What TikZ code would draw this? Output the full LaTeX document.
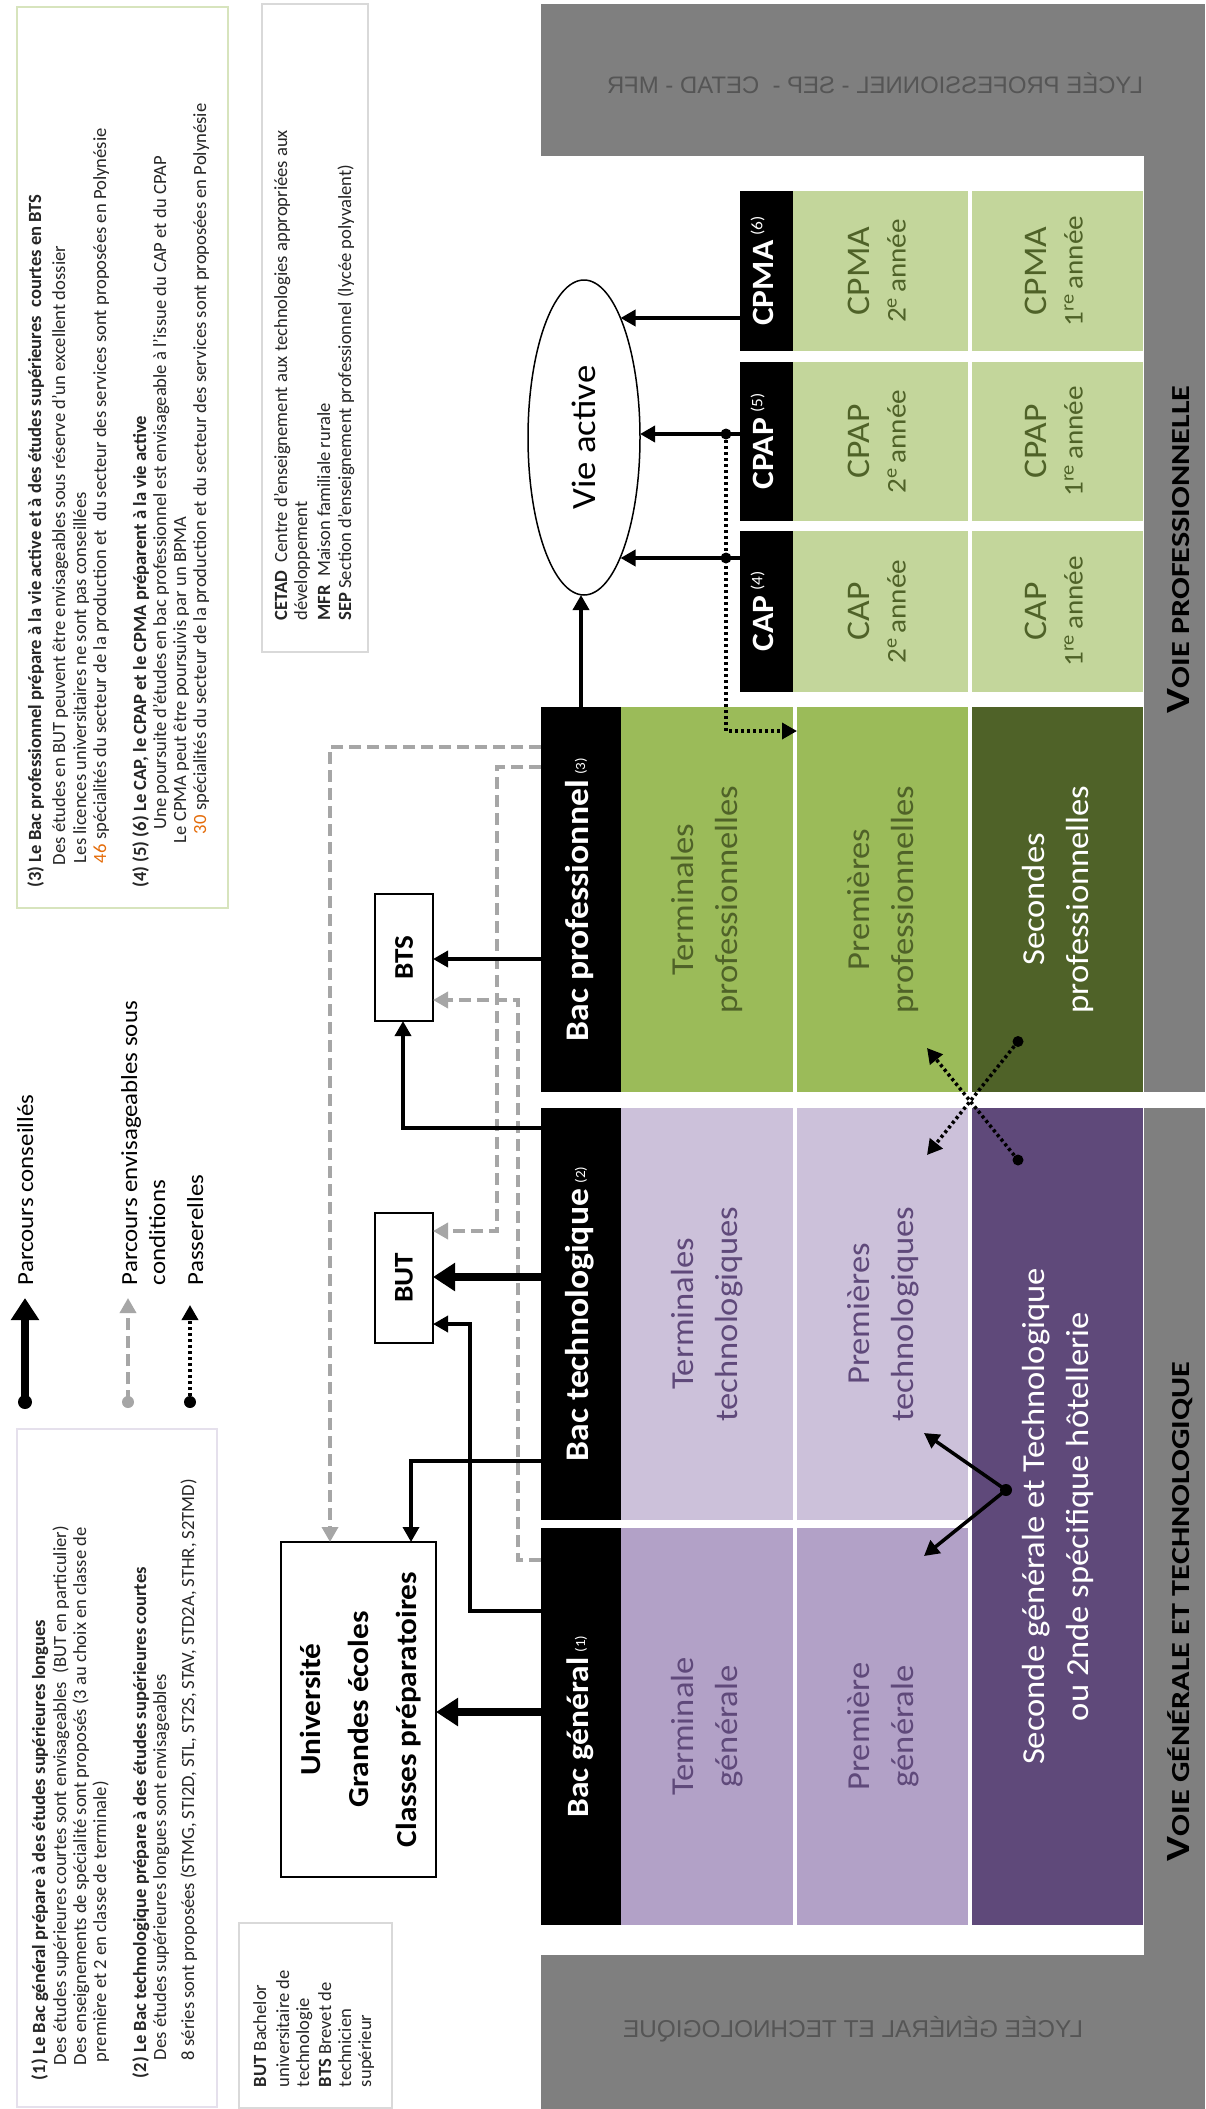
\documentclass[tikz,border=0pt]{standalone}
\usepackage{graphicx}
\usepackage{fontspec}
\setmainfont{Carlito}
\newfontfamily\dia{Carlito}[FakeStretch=1.08]
\newfontfamily\voie{Carlito}[FakeStretch=1.24]
\newfontfamily\bandfont{Liberation Sans}
\usetikzlibrary{arrows.meta,shapes.geometric}
\definecolor{bandgray}{HTML}{7F7F7F}
\definecolor{bandtext}{HTML}{555555}
\definecolor{olivemid}{HTML}{9BBB59}
\definecolor{olivedark}{HTML}{4F6228}
\definecolor{olivelight}{HTML}{C3D69B}
\definecolor{purplemid}{HTML}{B2A1C7}
\definecolor{purplelight}{HTML}{CCC1DA}
\definecolor{purpledark}{HTML}{5F497A}
\definecolor{dashgray}{HTML}{A6A6A6}
\definecolor{framegreen}{HTML}{D7E4BD}
\definecolor{framepurple}{HTML}{E5E0EC}
\definecolor{framegray}{HTML}{D9D9D9}
\definecolor{orangenum}{HTML}{E46C0A}
\definecolor{notetext}{HTML}{262626}
\newcommand\fsz[2]{\fontsize{#1pt}{#2pt}\selectfont}
\newcommand\rt[1]{\rotatebox{90}{\begin{tabular}{@{}c@{}}#1\end{tabular}}}
\newcommand\hsup[1]{\,\raisebox{3pt}{\fsz{14}{14}\mdseries(#1)}}
\newcommand\csup[1]{\,\raisebox{11pt}{\fsz{16}{16}\mdseries(#1)}}
\newcommand\yr[2]{{\fsz{27}{36}#1\textsuperscript{#2}\,année}}
\begin{document}
\begin{tikzpicture}[x=1pt,y=-1pt,
  every node/.style={inner sep=0pt, outer sep=0pt},
  sz/.style 2 args={minimum width=#1pt, minimum height=#2pt},
  cellbox/.style={rectangle, fill=#1},
  framebox/.style={rectangle, draw=black, line width=2pt, fill=white},
  notebox/.style={rectangle, draw=#1, line width=2pt},
  celltxt/.style={font=\dia\fsz{32}{44}, text=#1},
  hdrtxt/.style={font=\dia\bfseries\fsz{33}{36}, text=white},
  captxt/.style={font=\dia\fsz{33}{36}, text=olivedark},
  note/.style={rotate=90, anchor=base west, font=\fsz{18.6}{21}, text=notetext},
  legtxt/.style={rotate=90, anchor=base west, font=\dia\fsz{23}{28}},
  thickarr/.style={line width=8pt, -{Triangle[length=22pt,width=27pt]}},
  medarr/.style={line width=3.5pt, -{Triangle[length=15pt,width=16pt]}},
  condarr/.style={line width=3.5pt, draw=dashgray, dash pattern=on 12pt off 6pt, -{Triangle[length=15pt,width=16pt]}},
  passarr/.style={line width=3.5pt, dash pattern=on 3pt off 3pt, -{Triangle[length=15pt,width=16pt]}},
]
\useasboundingbox (0,0) rectangle (1205,2109);
\fill[white] (0,0) rectangle (1205,2109);

% ---------- gray bands ----------
\fill[bandgray] (541,4) rectangle (1205,1092);
\fill[white] (541,156) rectangle (1144,1092);
\fill[bandgray] (541,1108) rectangle (1205,2109);
\fill[white] (541,1108) rectangle (1144,1955);
\node[text=bandtext] (bandpro) at (875,83) {\reflectbox{\resizebox{536pt}{!}{\bandfont\fsz{24}{24}LYCÉE PROFESSIONNEL - SEP -\ \ CETAD - MFR}}};
\node[text=bandtext] (bandgt) at (853,2029) {\reflectbox{\resizebox{460pt}{!}{\bandfont\fsz{24}{24}LYCÉE GÉNÉRAL ET TECHNOLOGIQUE}}};
\node[rotate=90, anchor=base west, font=\voie\bfseries\fsz{26}{26}] (voiepro) at (1189,713) {{\fsz{34}{34}V}OIE PROFESSIONNELLE};
\node[rotate=90, anchor=base west, font=\voie\bfseries\fsz{26}{26}] (voiegt) at (1189,1861) {{\fsz{34}{34}V}OIE GÉNÉRALE ET TECHNOLOGIQUE};

% ---------- CAP / CPAP / CPMA ----------
\node[cellbox=black, sz={53}{160}, hdrtxt, font=\dia\bfseries\fsz{31}{34}] (cpmaH) at (766.5,271) {\rt{CPMA\csup{6}}};
\node[cellbox=olivelight, sz={175}{160}, captxt] (cpma2) at (880.5,271) {\rt{CPMA\\\yr{2}{e}}};
\node[cellbox=olivelight, sz={171}{160}, captxt] (cpma1) at (1057.5,271) {\rt{CPMA\\\yr{1}{re}}};
\node[cellbox=black, sz={53}{159}, hdrtxt, font=\dia\bfseries\fsz{31}{34}] (cpapH) at (766.5,441.5) {\rt{CPAP\csup{5}}};
\node[cellbox=olivelight, sz={175}{159}, captxt] (cpap2) at (880.5,441.5) {\rt{CPAP\\\yr{2}{e}}};
\node[cellbox=olivelight, sz={171}{159}, captxt] (cpap1) at (1057.5,441.5) {\rt{CPAP\\\yr{1}{re}}};
\node[cellbox=black, sz={53}{161}, hdrtxt, font=\dia\bfseries\fsz{31}{34}] (capH) at (766.5,611.5) {\rt{CAP\csup{4}}};
\node[cellbox=olivelight, sz={175}{161}, captxt] (cap2) at (880.5,611.5) {\rt{CAP\\\yr{2}{e}}};
\node[cellbox=olivelight, sz={171}{161}, captxt] (cap1) at (1057.5,611.5) {\rt{CAP\\\yr{1}{re}}};

% ---------- professional row ----------
\node[cellbox=black, sz={80}{385}, hdrtxt] (bacpro) at (581,899.5) {\rt{Bac professionnel\hsup{3}}};
\node[cellbox=olivemid, sz={172}{385}, celltxt=olivedark] (termpro) at (707,899.5) {\rt{Terminales\\professionnelles}};
\node[cellbox=olivemid, sz={171}{385}, celltxt=olivedark] (prempro) at (882.5,899.5) {\rt{Premières\\professionnelles}};
\node[cellbox=olivedark, sz={171}{385}, celltxt=white] (secpro) at (1057.5,899.5) {\rt{Secondes\\professionnelles}};

% ---------- technological row ----------
\node[cellbox=black, sz={80}{412}, hdrtxt] (bactech) at (581,1314) {\rt{Bac technologique\hsup{2}}};
\node[cellbox=purplelight, sz={172}{412}, celltxt=purpledark] (termtech) at (707,1314) {\rt{Terminales\\technologiques}};
\node[cellbox=purplelight, sz={171}{412}, celltxt=purpledark] (premtech) at (882.5,1314) {\rt{Premières\\technologiques}};

% ---------- general row ----------
\node[cellbox=black, sz={80}{397}, hdrtxt, font=\dia\bfseries\fsz{31}{36}] (bacgen) at (581,1726.5) {\rt{Bac général\hsup{1}}};
\node[cellbox=purplemid, sz={172}{397}, celltxt=purpledark] (termgen) at (707,1726.5) {\rt{Terminale\\générale}};
\node[cellbox=purplemid, sz={171}{397}, celltxt=purpledark] (premgen) at (882.5,1726.5) {\rt{Première\\générale}};
\node[cellbox=purpledark, sz={171}{817}, celltxt=white] (secgt) at (1057.5,1516.5) {\rt{Seconde générale et Technologique\\ou 2nde spécifique hôtellerie}};

% ---------- outcomes ----------
\node[ellipse, draw=black, line width=1.5pt, fill=white, minimum width=112pt, minimum height=315pt, font=\dia\fsz{34}{36}] (vie) at (584,437.5) {\rotatebox{90}{Vie active}};
\node[framebox, sz={58}{127}, font=\dia\bfseries\fsz{27}{30}] (bts) at (404,957.5) {\rotatebox{90}{BTS}};
\node[framebox, sz={58}{130}, font=\dia\bfseries\fsz{27}{30}] (but) at (404,1278) {\rotatebox{90}{BUT}};
\node[framebox, sz={155}{335}, font=\dia\bfseries\fsz{29}{48}] (univ) at (358.5,1709.5) {\rt{Université\\Grandes écoles\\Classes préparatoires}};

% ---------- connectors to Vie active ----------
\draw[medarr] (cpmaH.west |- 0,318) -- (vie.73 |- 0,318);
\draw[medarr] (cpapH.west |- 0,434) -- (vie.east |- 0,434);
\draw[medarr] (capH.west |- 0,558) -- (vie.-73 |- 0,558);
\draw[medarr] (bacpro.north) -- (bacpro.north |- vie.south);
\coordinate (pdotA) at (726,434);
\coordinate (pdotB) at (726,558);
\draw[passarr] (pdotA) |- (prempro.west |- 0,731);
\fill (pdotA) circle[radius=5.5pt];
\fill (pdotB) circle[radius=5.5pt];

% ---------- connectors to higher education ----------
\draw[condarr] (bacpro.west |- 0,747) -| (univ.north -| 330,0);
\draw[condarr] (bacpro.west |- 0,767) -| (497,1231) -- (but.east |- 0,1231);
\draw[condarr] (bacgen.west |- 0,1560) -| (518,1000) -- (bts.east |- 0,1000);
\draw[medarr] (bacpro.west |- 0,959) -- (bts.east |- 0,959);
\draw[medarr] (bactech.west |- 0,1128) -| (bts.south -| 403,0);
\draw[thickarr] (bactech.west |- 0,1277) -- (but.east |- 0,1277);
\draw[medarr] (bactech.west |- 0,1461) -| (univ.north -| 411,0);
\draw[medarr] (bacgen.west |- 0,1611) -| (470,1324) -- (but.east |- 0,1324);
\draw[thickarr] (bacgen.west |- 0,1712) -- (univ.east |- 0,1712);

% ---------- passerelles between seconde classes ----------
\coordinate (psA) at (1018,1041.5);
\coordinate (peA) at (927,1155);
\coordinate (psB) at (1018,1160);
\coordinate (peB) at (927,1048);
\draw[passarr] (psA) -- (peA);
\draw[passarr] (psB) -- (peB);
\fill (psA) circle[radius=5.5pt];
\fill (psB) circle[radius=5.5pt];
\coordinate (hub) at (1006,1490);
\coordinate (hubT) at (924,1433);
\coordinate (hubG) at (924,1556);
\draw[medarr] (hub) -- (hubT);
\draw[medarr] (hub) -- (hubG);
\fill (hub) circle[radius=6pt];

% ---------- legend ----------
\coordinate (lgAs) at (25,1402); \coordinate (lgAe) at (25,1298);
\coordinate (lgBs) at (128,1402); \coordinate (lgBe) at (128,1298);
\coordinate (lgCs) at (190,1402); \coordinate (lgCe) at (190,1305);
\draw[thickarr] (lgAs) -- (lgAe);
\fill (lgAs) circle[radius=7pt];
\draw[condarr] (lgBs) -- (lgBe);
\fill[dashgray] (lgBs) circle[radius=6pt];
\draw[passarr] (lgCs) -- (lgCe);
\fill (lgCs) circle[radius=6pt];
\node[legtxt] (lgAt) at (33,1285) {Parcours conseillés};
\node[legtxt] (lgBt) at (137,1285) {Parcours envisageables sous};
\node[legtxt] (lgBt2) at (165,1285) {conditions};
\node[legtxt] (lgCt) at (203,1285) {Passerelles};

% ---------- notes (3)-(6) ----------
\node[notebox=framegreen, sz={211}{901}] (nbox3) at (122.5,457.5) {};
\node[note] (n3a) at (41,887.5) {\textbf{(3) Le Bac professionnel prépare à la vie active et à des études supérieures\ \ courtes en BTS}};
\node[note] (n3b) at (65,865) {Des études en BUT peuvent être envisageables sous réserve d’un excellent dossier};
\node[note] (n3c) at (86,863) {Les licences universitaires ne sont pas conseillées};
\node[note] (n3d) at (106,863) {\textcolor{orangenum}{46} spécialités du secteur de la production et\ \ du secteur des services sont proposées en Polynésie};
\node[note] (n4a) at (146,887.5) {\textbf{(4) (5) (6) Le CAP, le CPAP et le CPMA préparent à la vie active}};
\node[note] (n4b) at (166,829.5) {Une poursuite d’études en bac professionnel est envisageable à l’issue du CAP et du CPAP};
\node[note] (n4c) at (186,843) {Le CPMA peut être poursuivis par un BPMA};
\node[note] (n4d) at (206,834) {\textcolor{orangenum}{30} spécialités du secteur de la production et du secteur des services sont proposées en Polynésie};

% ---------- CETAD glossary ----------
\node[notebox=framegray, sz={106}{648}] (nboxc) at (315,328) {};
\node[note] (nca) at (287,620.5) {\textbf{CETAD}\ \ Centre d’enseignement aux technologies appropriées aux};
\node[note] (ncb) at (307,620.5) {développement};
\node[note] (ncc) at (330,620.5) {\textbf{MFR}\ \ Maison familiale rurale};
\node[note] (ncd) at (351,620.5) {\textbf{SEP} Section d’enseignement professionnel (lycée polyvalent)};

% ---------- notes (1)-(2) ----------
\node[notebox=framepurple, sz={200}{678}] (nbox1) at (117,1768) {};
\node[note] (n1a) at (45,2080) {\textbf{(1) Le Bac général prépare à des études supérieures longues}};
\node[note] (n1b) at (66,2065) {Des études supérieures courtes sont envisageables\ \ (BUT en particulier)};
\node[note] (n1c) at (86,2065) {Des enseignements de spécialité sont proposés (3 au choix en classe de};
\node[note] (n1d) at (106,2062) {première et 2 en classe de terminale)};
\node[note] (n2a) at (146,2078) {\textbf{(2) Le Bac technologique prépare à des études supérieures courtes}};
\node[note] (n2b) at (166,2060) {Des études supérieures longues sont envisageables};
\node[note] (n2c) at (194,2060) {8 séries sont proposées (STMG, STI2D, STL, ST2S, STAV, STD2A, STHR, S2TMD)};

% ---------- BUT / BTS glossary ----------
\node[notebox=framegray, sz={153}{185}] (nboxb) at (315.5,2015.5) {};
\node[note] (nba) at (266,2087) {\textbf{BUT} Bachelor};
\node[note] (nbb) at (289,2087) {universitaire de};
\node[note] (nbc) at (309,2087) {technologie};
\node[note] (nbd) at (331,2087) {\textbf{BTS} Brevet de};
\node[note] (nbe) at (351,2087) {technicien};
\node[note] (nbf) at (371,2087) {supérieur};
\end{tikzpicture}
\end{document}
